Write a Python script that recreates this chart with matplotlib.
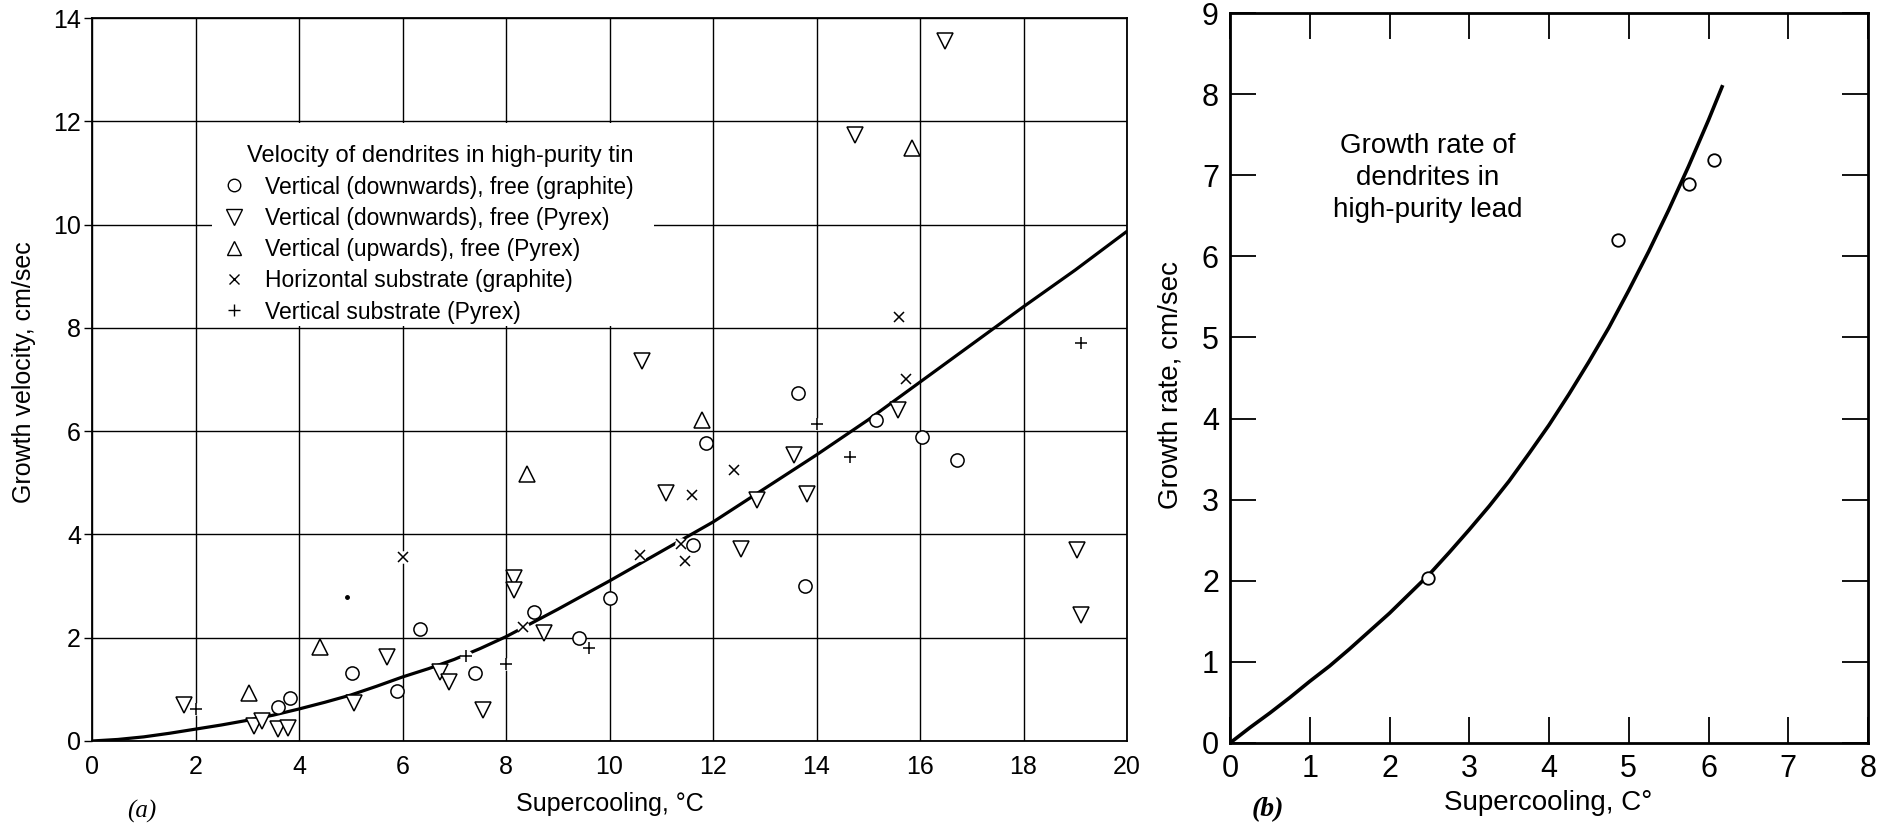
import matplotlib
matplotlib.use("Agg")
import matplotlib.pyplot as plt
from matplotlib.lines import Line2D
from matplotlib.patches import Rectangle

plt.rcParams['font.family'] = ['Liberation Sans', 'DejaVu Sans']

# ---- (a) high-purity tin: supercooling (°C) vs growth velocity (cm/sec) ----
down_graphite_x = [3.60, 3.83, 5.03, 5.90, 6.34, 7.40, 8.55, 9.42, 10.00, 11.62,
                   11.87, 13.64, 13.78, 15.15, 16.04, 16.72]
down_graphite_y = [0.65, 0.83, 1.32, 0.96, 2.16, 1.32, 2.49, 2.00, 2.77, 3.79,
                   5.78, 6.74, 3.00, 6.21, 5.88, 5.45]

down_pyrex_x = [1.77, 3.13, 3.28, 3.59, 3.78, 5.07, 5.71, 6.72, 6.89, 7.55, 8.15,
                8.15, 8.73, 10.62, 11.10, 12.54, 12.85, 13.57, 13.81, 14.75, 15.57,
                16.49, 19.03, 19.12]
down_pyrex_y = [0.70, 0.29, 0.39, 0.23, 0.25, 0.74, 1.62, 1.34, 1.15, 0.60, 3.15,
                2.93, 2.09, 7.35, 4.81, 3.72, 4.66, 5.54, 4.78, 11.73, 6.41,
                13.55, 3.70, 2.44]

up_pyrex_x = [3.04, 4.40, 8.41, 11.78, 15.84]
up_pyrex_y = [0.92, 1.82, 5.17, 6.21, 11.48]

horiz_graphite_x = [6.01, 8.33, 10.58, 11.38, 11.46, 11.60, 12.41, 15.60, 15.73]
horiz_graphite_y = [3.57, 2.20, 3.60, 3.82, 3.49, 4.77, 5.25, 8.21, 7.01]

vert_pyrex_x = [2.00, 7.22, 8.00, 9.61, 14.00, 14.64, 19.12]
vert_pyrex_y = [0.61, 1.65, 1.50, 1.80, 6.14, 5.50, 7.70]

stray_x = [4.93]
stray_y = [2.78]

curve_a_x = [0, 0.5, 1, 1.5, 2, 2.5, 3, 3.5, 4, 4.5, 5, 5.5, 6, 6.5, 7, 7.5, 8,
             9, 10, 11, 12, 13, 14, 15, 16, 17, 18, 19, 20]
curve_a_y = [0, 0.03, 0.08, 0.15, 0.23, 0.31, 0.40, 0.50, 0.62, 0.75, 0.89, 1.06,
             1.24, 1.40, 1.58, 1.79, 2.02, 2.55, 3.10, 3.67, 4.24, 4.89, 5.54,
             6.22, 6.95, 7.68, 8.41, 9.12, 9.87]

labels_a = ['Vertical (downwards), free (graphite)',
            'Vertical (downwards), free (Pyrex)',
            'Vertical (upwards), free (Pyrex)',
            'Horizontal substrate (graphite)',
            'Vertical substrate (Pyrex)']

# ---- (b) high-purity lead ----
lead_x = [2.48, 4.87, 5.75, 6.07]
lead_y = [2.03, 6.20, 6.89, 7.19]

curve_b_x = [0, 0.25, 0.5, 0.75, 1.0, 1.25, 1.5, 1.75, 2.0, 2.25, 2.5, 2.75, 3.0,
             3.25, 3.5, 3.75, 4.0, 4.25, 4.5, 4.75, 5.0, 5.25, 5.5, 5.75, 6.0, 6.17]
curve_b_y = [0, 0.19, 0.37, 0.56, 0.76, 0.95, 1.16, 1.38, 1.60, 1.84, 2.08, 2.35,
             2.63, 2.92, 3.23, 3.57, 3.92, 4.30, 4.70, 5.12, 5.58, 6.06, 6.57,
             7.11, 7.68, 8.09]

W, H = 1886, 827
fig = plt.figure(figsize=(W / 100, H / 100), dpi=100)

# ---------------- panel (a) ----------------
ax = fig.add_axes([92 / W, 1 - 741 / H, (1127 - 92) / W, (741 - 18) / H])
ax.set_xlim(0, 20)
ax.set_ylim(0, 14)
ax.set_xticks(range(0, 21, 2))
ax.set_yticks(range(0, 15, 2))
ax.set_axisbelow(True)
ax.grid(True, color='black', lw=1.0)
for s in ax.spines.values():
    s.set_linewidth(1.3)
ax.tick_params(axis='x', length=0, pad=10, labelsize=18)
ax.tick_params(axis='y', length=6, width=1.0, pad=2, labelsize=18)

# white area behind the legend
ax.add_patch(Rectangle((2.32, 8.03), 10.86 - 2.32, 3.94, facecolor='white',
                       edgecolor='none', zorder=1))

ax.plot(curve_a_x, curve_a_y, color='black', lw=2.3, zorder=2)

mk = dict(ls='none', mec='black', mfc='white', zorder=3)
ax.plot(down_graphite_x, down_graphite_y, marker='o', ms=9.5, mew=1.1, **mk)
ax.plot(down_pyrex_x, down_pyrex_y, marker='v', ms=11.5, mew=1.1, **mk)
ax.plot(up_pyrex_x, up_pyrex_y, marker='^', ms=11, mew=1.1, **mk)
# small white halos behind the thin markers
ax.plot(horiz_graphite_x + vert_pyrex_x, horiz_graphite_y + vert_pyrex_y,
        ls='none', marker='o', ms=9, mfc='white', mec='none', zorder=2.5)
ax.plot(horiz_graphite_x, horiz_graphite_y, marker='x', ms=6.5, mew=1.1, **mk)
ax.plot(vert_pyrex_x, vert_pyrex_y, marker='+', ms=8.5, mew=1.1, **mk)
ax.plot(stray_x, stray_y, ls='none', marker='o', ms=2.5, color='black', zorder=3)

handles = [
    Line2D([], [], marker='o', ms=9, mew=1.0, **mk),
    Line2D([], [], marker='v', ms=11, mew=1.0, **mk),
    Line2D([], [], marker='^', ms=10.5, mew=1.0, **mk),
    Line2D([], [], marker='x', ms=6.5, mew=1.0, **mk),
    Line2D([], [], marker='+', ms=9, mew=1.0, **mk),
]
ax.legend(handles, labels_a, loc='upper left', bbox_to_anchor=(2.53, 10.95),
          bbox_transform=ax.transData, frameon=False, fontsize=16.5,
          handlelength=1.0, handletextpad=0.85, labelspacing=0.36,
          borderpad=0, borderaxespad=0)
ax.text(3.0, 11.33, 'Velocity of dendrites in high-purity tin', fontsize=17,
        ha='left', va='center', zorder=5)

ax.set_xlabel('Supercooling, °C', fontsize=18)
ax.xaxis.set_label_coords(0.5, -0.087)
ax.xaxis.label.set_va('center')
ax.set_ylabel('Growth velocity, cm/sec', fontsize=18)
ax.yaxis.set_label_coords(-0.066, 0.51)
ax.yaxis.label.set_va('center')

fig.text(142 / W, 1 - 811 / H, '(a)', fontsize=18, style='italic',
         family=['Liberation Serif', 'DejaVu Serif'], ha='center', va='center')

# ---------------- panel (b) ----------------
bx = fig.add_axes([1230 / W, 1 - 743 / H, (1868 - 1230) / W, (743 - 13) / H])
bx.set_xlim(0, 8)
bx.set_ylim(0, 9)
bx.set_xticks(range(0, 9))
bx.set_yticks(range(0, 10))
for s in bx.spines.values():
    s.set_linewidth(2.0)
bx.tick_params(direction='in', length=18.5, width=1.3, top=True, right=True,
               labelsize=22, pad=8)

bx.plot(curve_b_x, curve_b_y, color='black', lw=2.6, zorder=2)
bx.plot(lead_x, lead_y, ls='none', marker='o', ms=9, mew=1.3, mec='black',
        mfc='white', zorder=3)

bx.text(2.48, 6.97, 'Growth rate of\ndendrites in\nhigh-purity lead',
        fontsize=20, ha='center', va='center', linespacing=1.3)

bx.set_xlabel('Supercooling, C°', fontsize=20)
bx.xaxis.set_label_coords(0.498, -0.082)
bx.xaxis.label.set_va('center')
bx.set_ylabel('Growth rate, cm/sec', fontsize=20)
bx.yaxis.set_label_coords(-0.093, 0.49)
bx.yaxis.label.set_va('center')

fig.text(1268 / W, 1 - 810 / H, '(b)', fontsize=20, style='italic',
         weight='bold', family=['Liberation Serif', 'DejaVu Serif'],
         ha='center', va='center')

fig.savefig('out.png', dpi=100)
